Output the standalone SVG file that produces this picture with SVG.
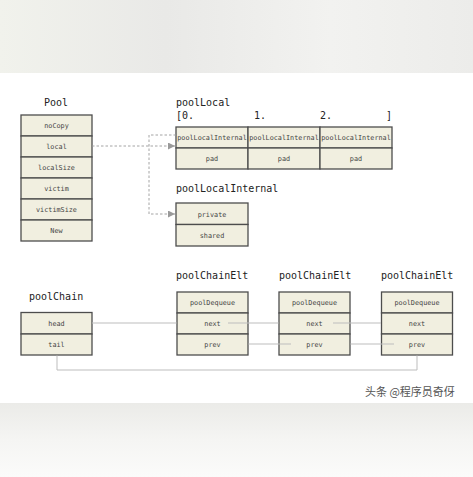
<svg xmlns="http://www.w3.org/2000/svg" width="473" height="477" viewBox="0 0 473 477">
<defs>
<linearGradient id="bgTop" x1="0" y1="0" x2="1" y2="0">
<stop offset="0" stop-color="#f1f2ec"/>
<stop offset="0.35" stop-color="#e9e9e7"/>
<stop offset="0.7" stop-color="#f2f2f0"/>
<stop offset="1" stop-color="#ececea"/>
</linearGradient>
<linearGradient id="bgBot" x1="0" y1="0" x2="0" y2="1">
<stop offset="0" stop-color="#ebebe8"/>
<stop offset="0.5" stop-color="#f5f5f3"/>
<stop offset="1" stop-color="#fbfbfa"/>
</linearGradient>
<marker id="arr" viewBox="0 0 10 10" refX="10" refY="5" markerWidth="7" markerHeight="7" markerUnits="userSpaceOnUse" orient="auto">
<path d="M0,0 L10,5 L0,10 z" fill="#9a9a9a"/>
</marker>
</defs>
<style>
.cell{fill:#f1efe0;stroke:#4d4d4d;stroke-width:1.3}
.lbl{font-family:"DejaVu Sans Mono",monospace;font-size:6.8px;fill:#444;text-anchor:middle}
.ttl{font-family:"DejaVu Sans Mono",monospace;font-size:10px;fill:#222}
.dash{fill:none;stroke:#9a9a9a;stroke-width:0.9;stroke-dasharray:2.5,2}
.link{fill:none;stroke:#bdbdbd;stroke-width:1}
</style>
<rect x="0" y="0" width="473" height="477" fill="#ffffff"/>
<rect x="0" y="0" width="473" height="73" fill="url(#bgTop)"/>
<rect x="0" y="403" width="473" height="74" fill="url(#bgBot)"/>

<g id="pool">
<text class="ttl" x="44" y="106">Pool</text>
<rect class="cell" x="21" y="115" width="71" height="21"/>
<rect class="cell" x="21" y="136" width="71" height="21"/>
<rect class="cell" x="21" y="157" width="71" height="21"/>
<rect class="cell" x="21" y="178" width="71" height="21"/>
<rect class="cell" x="21" y="199" width="71" height="21"/>
<rect class="cell" x="21" y="220" width="71" height="21"/>
<text class="lbl" x="56.5" y="128">noCopy</text>
<text class="lbl" x="56.5" y="149">local</text>
<text class="lbl" x="56.5" y="170">localSize</text>
<text class="lbl" x="56.5" y="191">victim</text>
<text class="lbl" x="56.5" y="212">victimSize</text>
<text class="lbl" x="56.5" y="233">New</text>
</g>

<g id="poolLocal">
<text class="ttl" x="176" y="106">poolLocal</text>
<text class="ttl" x="176" y="119">[0.</text>
<text class="ttl" x="254" y="119">1.</text>
<text class="ttl" x="320" y="119">2.</text>
<text class="ttl" x="386" y="119">]</text>
<rect class="cell" x="176" y="127" width="72" height="21"/>
<rect class="cell" x="176" y="148" width="72" height="21"/>
<rect class="cell" x="248" y="127" width="72" height="21"/>
<rect class="cell" x="248" y="148" width="72" height="21"/>
<rect class="cell" x="320" y="127" width="72" height="21"/>
<rect class="cell" x="320" y="148" width="72" height="21"/>
<text class="lbl" x="212" y="140" font-size="6.5">poolLocalInternal</text>
<text class="lbl" x="212" y="161">pad</text>
<text class="lbl" x="284" y="140" font-size="6.5">poolLocalInternal</text>
<text class="lbl" x="284" y="161">pad</text>
<text class="lbl" x="356" y="140" font-size="6.5">poolLocalInternal</text>
<text class="lbl" x="356" y="161">pad</text>
</g>

<g id="poolLocalInternal">
<text class="ttl" x="176" y="192">poolLocalInternal</text>
<rect class="cell" x="176" y="203" width="72" height="21.5"/>
<rect class="cell" x="176" y="224.5" width="72" height="21.5"/>
<text class="lbl" x="212" y="216.5">private</text>
<text class="lbl" x="212" y="238">shared</text>
</g>

<g id="poolChain">
<text class="ttl" x="29" y="300">poolChain</text>
<rect class="cell" x="21" y="312.5" width="71" height="21.5"/>
<rect class="cell" x="21" y="334" width="71" height="21"/>
<text class="lbl" x="56.5" y="325.5">head</text>
<text class="lbl" x="56.5" y="346.5">tail</text>
</g>

<g id="poolChainElt1">
<text class="ttl" x="176" y="279">poolChainElt</text>
<rect class="cell" x="177" y="292" width="71" height="21"/>
<rect class="cell" x="177" y="313" width="71" height="21"/>
<rect class="cell" x="177" y="334" width="71" height="21"/>
<text class="lbl" x="212.5" y="305">poolDequeue</text>
<text class="lbl" x="212.5" y="326">next</text>
<text class="lbl" x="212.5" y="347">prev</text>
</g>

<g id="poolChainElt2">
<text class="ttl" x="279" y="279">poolChainElt</text>
<rect class="cell" x="279" y="292" width="71" height="21"/>
<rect class="cell" x="279" y="313" width="71" height="21"/>
<rect class="cell" x="279" y="334" width="71" height="21"/>
<text class="lbl" x="314.5" y="305">poolDequeue</text>
<text class="lbl" x="314.5" y="326">next</text>
<text class="lbl" x="314.5" y="347">prev</text>
</g>

<g id="poolChainElt3">
<text class="ttl" x="381" y="279">poolChainElt</text>
<rect class="cell" x="381.5" y="292" width="71" height="21"/>
<rect class="cell" x="381.5" y="313" width="71" height="21"/>
<rect class="cell" x="381.5" y="334" width="71" height="21"/>
<text class="lbl" x="417" y="305">poolDequeue</text>
<text class="lbl" x="417" y="326">next</text>
<text class="lbl" x="417" y="347">prev</text>
</g>

<g id="connectors">
<path class="dash" d="M92,146 H175" marker-end="url(#arr)"/>
<path class="dash" d="M176,135 H149 V214 H175" marker-end="url(#arr)"/>
<path class="link" d="M92,323 H176.5"/>
<path class="link" d="M228,323 H278.5"/>
<path class="link" d="M248.5,344 H291"/>
<path class="link" d="M333,323 H381"/>
<path class="link" d="M350.5,344 H394"/>
<path class="link" d="M57,355.5 V370 H417 V355.5"/>
</g>

<text x="365" y="396" font-family="'Noto Sans CJK SC', sans-serif" font-size="11" fill="#555">头条 @程序员奇伢</text>
</svg>
